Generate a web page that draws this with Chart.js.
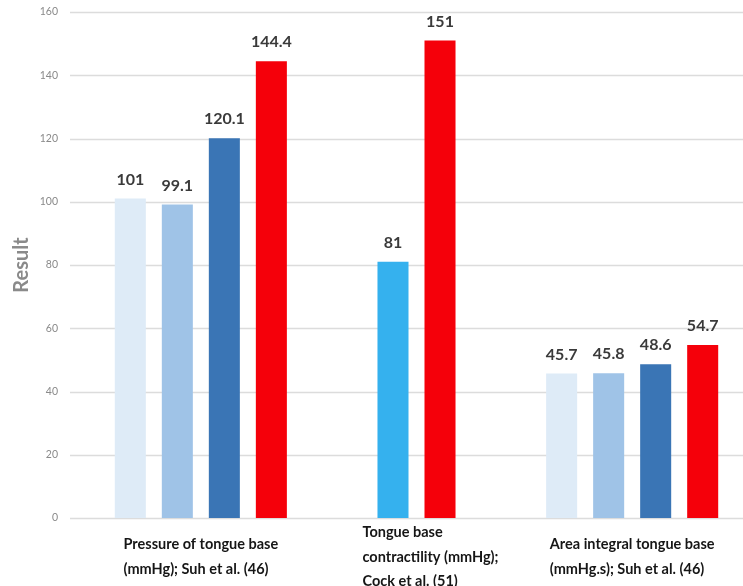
<!DOCTYPE html>
<html>
<head>
<meta charset="utf-8">
<script src="https://cdn.jsdelivr.net/npm/chart.js@4.4.1/dist/chart.umd.min.js"></script>
<style>
  html, body { margin: 0; padding: 0; background: #ffffff; }
  #wrap { width: 743px; height: 586px; position: relative; }
</style>
</head>
<body>
<div id="wrap"><canvas id="chart"></canvas></div>
<script>
// Measurement groups (x-axis), each label split into lines
const categories = [
  ["Pressure of tongue base", "(mmHg); Suh et al. (46)"],
  ["Tongue base", "contractility (mmHg);", "Cock et al. (51)"],
  ["Area integral tongue base", "(mmHg.s); Suh et al. (46)"]
];

// Values per bar slot within each group
const slot1 = [101, null, 45.7];
const slot2 = [99.1, 81, 45.8];
const slot3 = [120.1, 151, 48.6];
const slot4 = [144.4, null, 54.7];

// Fill colours per slot and group
const slot1Colors = ["#deebf7", "#deebf7", "#deebf7"];
const slot2Colors = ["#9fc3e7", "#35b1ee", "#9fc3e7"];
const slot3Colors = ["#3a75b5", "#f5000a", "#3a75b5"];
const slot4Colors = ["#f5000a", "#f5000a", "#f5000a"];

const yTicks = [0, 20, 40, 60, 80, 100, 120, 140, 160];
const yTitle = "Result";

const FONT = 'Lato, "Open Sans", sans-serif';

// Value labels above each bar
const valueLabels = {
  id: "valueLabels",
  afterDatasetsDraw(chart) {
    const ctx = chart.ctx;
    ctx.save();
    ctx.font = "bold 16px " + FONT;
    ctx.fillStyle = "#3a3a3a";
    ctx.textAlign = "center";
    ctx.textBaseline = "middle";
    chart.data.datasets.forEach((ds, di) => {
      const meta = chart.getDatasetMeta(di);
      meta.data.forEach((bar, i) => {
        const v = ds.data[i];
        if (v === null || v === undefined) return;
        ctx.fillText(String(v), bar.x, bar.y - 19);
      });
    });
    ctx.restore();
  }
};

// Category labels: left-aligned line blocks under each group
const categoryLabels = {
  id: "categoryLabels",
  afterDraw(chart) {
    const ctx = chart.ctx;
    const xs = chart.scales.x;
    const lineH = 24.5;
    const midY = 557;
    ctx.save();
    ctx.font = "bold 14.5px " + FONT;
    ctx.fillStyle = "#161616";
    ctx.textAlign = "left";
    ctx.textBaseline = "middle";
    categories.forEach((lines, i) => {
      const cx = xs.getPixelForValue(i);
      const w = Math.max(...lines.map(l => ctx.measureText(l).width));
      // the middle label sits a little right of its group centre
      const left = cx - w / 2 + (lines.length > 2 ? 14 : 0);
      const top = midY - (lines.length - 1) * lineH / 2;
      lines.forEach((l, k) => ctx.fillText(l, left, top + k * lineH));
    });
    ctx.restore();
  }
};

// Horizontal grid lines spanning from the tick labels to the right edge
const fullGrid = {
  id: "fullGrid",
  beforeDatasetsDraw(chart) {
    const ctx = chart.ctx;
    const ys = chart.scales.y;
    ctx.save();
    ctx.strokeStyle = "#dcdcdc";
    ctx.lineWidth = 1.5;
    ys.ticks.forEach(t => {
      const y = Math.round(ys.getPixelForValue(t.value)) + 0.5;
      ctx.beginPath();
      ctx.moveTo(70, y);
      ctx.lineTo(chart.width, y);
      ctx.stroke();
    });
    ctx.restore();
  }
};

const mkSet = (data, colors) => ({
  data: data,
  backgroundColor: colors,
  borderWidth: 0,
  categoryPercentage: 0.872,
  barPercentage: 0.66
});

new Chart(document.getElementById("chart"), {
  type: "bar",
  data: {
    labels: categories,
    datasets: [
      mkSet(slot1, slot1Colors),
      mkSet(slot2, slot2Colors),
      mkSet(slot3, slot3Colors),
      mkSet(slot4, slot4Colors)
    ]
  },
  options: {
    responsive: true,
    maintainAspectRatio: false,
    animation: false,
    layout: { padding: { top: 12, right: 3, bottom: 68, left: 0 } },
    plugins: {
      legend: { display: false },
      tooltip: { enabled: false }
    },
    scales: {
      x: {
        display: false
      },
      y: {
        min: 0,
        max: 160,
        afterBuildTicks(scale) {
          scale.ticks = yTicks.map(v => ({ value: v }));
        },
        afterFit(scale) {
          scale.width = 93;
          scale.paddingTop = 0;
          scale.paddingBottom = 0;
        },
        border: { display: false },
        grid: { display: false },
        ticks: {
          padding: 27,
          color: "#8a8a8a",
          font: { family: FONT, size: 10.5 }
        },
        title: {
          display: true,
          text: yTitle,
          color: "#8a8a8a",
          font: { family: FONT, size: 20, weight: "bold" },
          padding: { top: 10, bottom: 0 }
        }
      }
    }
  },
  plugins: [fullGrid, valueLabels, categoryLabels]
});
</script>
</body>
</html>
